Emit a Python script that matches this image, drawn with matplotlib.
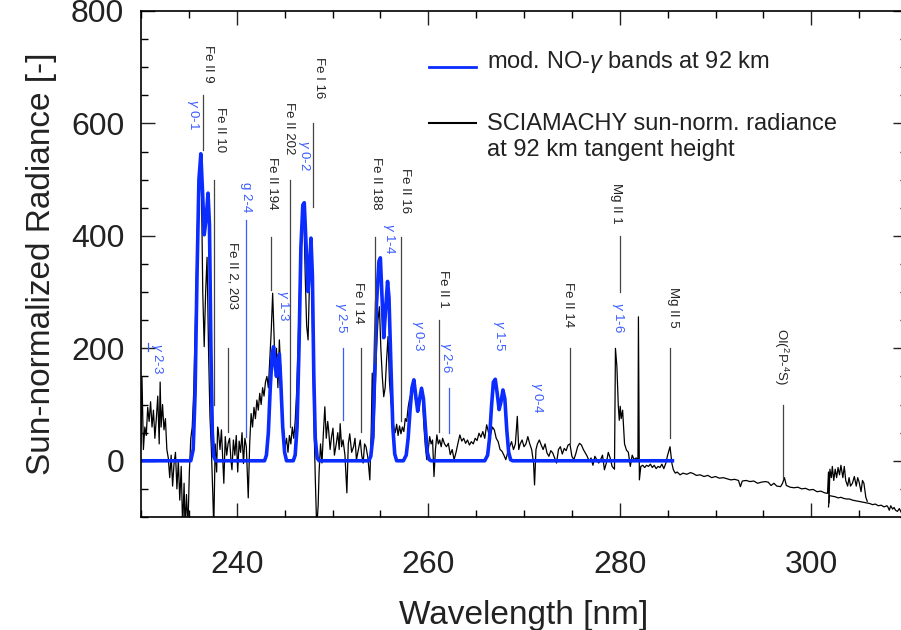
import matplotlib
matplotlib.use("Agg")
import matplotlib.pyplot as plt
from matplotlib.ticker import MultipleLocator

plt.rcParams["font.family"] = ["Liberation Sans", "DejaVu Sans"]
plt.rcParams["mathtext.fontset"] = "custom"
plt.rcParams["mathtext.it"] = "Liberation Sans:italic"
plt.rcParams["mathtext.rm"] = "Liberation Sans"

# modelled NO-gamma bands (blue)
model_wl = [230.0, 235.2, 235.45, 235.65, 235.85, 236.05, 236.25, 236.45, 236.6, 236.8, 237.0,
            237.15, 237.3, 237.45, 237.6, 237.8,
            242.9, 243.1, 243.3, 243.5, 243.7, 243.85, 244.0, 244.15, 244.3, 244.45, 244.6,
            244.8, 245.0, 245.2,
            245.9, 246.1, 246.3, 246.5, 246.7, 246.9, 247.05, 247.25, 247.45, 247.6, 247.75,
            247.9, 248.05, 248.2, 248.4, 248.6,
            253.8, 254.0, 254.2, 254.4, 254.6, 254.85, 255.0, 255.15, 255.35, 255.55, 255.75,
            255.9, 256.1, 256.3, 256.5, 256.7,
            257.4, 257.7, 257.9, 258.1, 258.3, 258.5, 258.7, 258.9, 259.1, 259.3, 259.5,
            259.7, 259.9, 260.1, 260.3,
            265.9, 266.2, 266.4, 266.6, 266.8, 267.0, 267.2, 267.4, 267.6, 267.8, 268.0,
            268.2, 268.4, 268.6, 268.8, 285.5]
model_val = [0, 0, 20, 120, 330, 500, 546, 470, 402, 430, 476,
             420, 200, 50, 8, 0,
             0, 10, 50, 130, 190, 203, 170, 150, 180, 190, 140,
             60, 15, 0,
             0, 10, 60, 200, 380, 455, 459, 380, 301, 340, 396,
             330, 150, 40, 5, 0,
             0, 8, 40, 150, 280, 355, 361, 300, 219, 270, 319,
             290, 170, 60, 12, 0,
             0, 10, 40, 90, 130, 144, 115, 88, 110, 129, 110,
             60, 15, 2, 0,
             0, 10, 40, 95, 140, 145, 120, 91, 105, 126, 110,
             55, 15, 2, 0, 0]

# SCIAMACHY sun-normalized radiance, channel 2
sci_wl = [230.0, 230.1, 230.25, 230.4, 230.55, 230.7, 230.85, 231.0, 231.15, 231.3, 231.45,
          231.6, 231.75, 231.9, 232.0, 232.1, 232.25, 232.4, 232.55, 232.7, 232.85, 233.0,
          233.15, 233.3, 233.45, 233.6, 233.75, 233.9, 234.05, 234.2, 234.35, 234.5, 234.6,
          234.75, 234.9, 235.05, 235.2, 235.35, 235.5, 235.7, 235.9, 236.1, 236.3, 236.45,
          236.6, 236.75, 236.9, 237.05, 237.2, 237.35, 237.5, 237.6, 237.75, 237.9, 238.0,
          238.1, 238.25, 238.4, 238.55, 238.65, 238.8, 238.95, 239.1, 239.25, 239.4, 239.5,
          239.65, 239.8, 239.95, 240.1, 240.25, 240.4, 240.55, 240.7, 240.85, 241.0, 241.2,
          241.35, 241.5, 241.65, 241.8, 241.95, 242.1, 242.25, 242.4, 242.55, 242.7, 242.85,
          243.0, 243.15, 243.3, 243.45, 243.6, 243.75, 243.9, 244.0, 244.15, 244.3, 244.45,
          244.6, 244.75, 244.9, 245.05, 245.2, 245.35, 245.5, 245.65, 245.8, 245.95, 246.1,
          246.25, 246.4, 246.55, 246.7, 246.85, 247.0, 247.15, 247.3, 247.45, 247.6, 247.75,
          247.9, 248.05, 248.2, 248.35, 248.5, 248.6, 248.75, 248.9, 249.05, 249.2, 249.35,
          249.5, 249.6, 249.75, 249.9, 250.05, 250.2, 250.4, 250.55, 250.7, 250.8, 250.95,
          251.1, 251.3, 251.5, 251.65, 251.8, 252.0, 252.2, 252.35, 252.5, 252.7, 252.9,
          253.05, 253.2, 253.35, 253.5, 253.7, 253.9, 254.05, 254.15, 254.3, 254.45, 254.6,
          254.75, 254.9, 255.05, 255.2, 255.35, 255.5, 255.65, 255.8, 255.95, 256.1, 256.25,
          256.4, 256.55, 256.7, 256.85, 257.0, 257.15, 257.3, 257.45, 257.6, 257.75, 257.9,
          258.05, 258.2, 258.35, 258.5, 258.65, 258.8, 258.95, 259.1, 259.25, 259.4, 259.55,
          259.7, 259.85, 260.0, 260.15, 260.3, 260.45, 260.6, 260.75, 260.9, 261.05, 261.2,
          261.35, 261.5, 261.7, 261.9, 262.1, 262.3, 262.5, 262.7, 262.9, 263.1, 263.3,
          263.5, 263.7, 263.9, 264.1, 264.3, 264.5, 264.7, 264.9, 265.1, 265.3, 265.5,
          265.7, 265.9, 266.1, 266.3, 266.5, 266.7, 266.9, 267.1, 267.3, 267.5, 267.7,
          267.9, 268.1, 268.3, 268.5, 268.7, 268.9, 269.1, 269.3, 269.45, 269.6, 269.8,
          270.0, 270.2, 270.4, 270.6, 270.8, 271.0, 271.1, 271.25, 271.4, 271.6, 271.8,
          272.0, 272.2, 272.4, 272.6, 272.8, 273.0, 273.2, 273.4, 273.6, 273.8, 274.0,
          274.2, 274.4, 274.6, 274.8, 275.0, 275.2, 275.4, 275.6, 275.8, 276.0, 276.2,
          276.4, 276.6, 276.8, 277.0, 277.2, 277.4, 277.6, 277.8, 278.0, 278.2, 278.4,
          278.6, 278.8, 279.0, 279.2, 279.45, 279.55, 279.7, 279.85, 279.95, 280.05, 280.15,
          280.3, 280.5, 280.7, 280.9, 281.1, 281.3, 281.5, 281.7, 281.9, 281.95, 282.05,
          282.2, 282.4, 282.6, 282.8, 283.0, 283.2, 283.4, 283.6, 283.8, 284.0, 284.2,
          284.4, 284.6, 284.8, 285.0, 285.25, 285.45, 285.6, 285.8, 286.0, 286.3, 286.6,
          287.0, 287.4, 287.7, 288.0, 288.4, 288.8, 289.2, 289.6, 290.0, 290.4, 290.8,
          291.2, 291.6, 292.0, 292.4, 292.6, 292.8, 293.2, 293.6, 294.0, 294.4, 294.8,
          295.2, 295.5, 295.8, 296.1, 296.4, 296.8, 297.0, 297.2, 297.4, 297.8, 298.2,
          298.6, 299.0, 299.4, 299.8, 300.2, 300.6, 301.0, 301.4, 301.7, 301.8, 301.85,
          301.95, 302.1, 302.2, 302.35, 302.5, 302.65, 302.8, 302.95, 303.1, 303.3, 303.45,
          303.6, 303.8, 303.95, 304.1, 304.3, 304.5, 304.7, 304.85, 305.0, 305.2, 305.35,
          305.5, 305.7, 305.85]
sci_val = [30, 150, 20, 60, 45, 95, 70, 105, 60, 90, 40,
           75, 115, 30, 140, 60, 100, 55, 75, 20, 5, -30,
           10, -45, -5, 15, -50, 0, -70, -10, -120, -40, -120,
           -60, -120, -20, 40, 60, 120, 260, 420, 480, 505, 300,
           203, 300, 362, 200, 80, 20, -60, -120, 30, -20, 60,
           50, 20, 55, -4, -40, 43, 10, 31, 40, 0, -16,
           37, 10, 45, -20, 35, 15, 50, -5, 40, 25, -66,
           30, 84, 60, 95, 75, 108, 90, 120, 100, 130, 115,
           140, 150, 130, 180, 230, 298, 220, 160, 200, 130, 215,
           160, 90, 50, 25, 40, 15, 45, 30, 60, 40, 70,
           120, 200, 300, 380, 430, 446, 330, 240, 215, 320, 393,
           250, 80, -30, -120, -80, -20, 30, -4, 50, 96, 40,
           70, 54, 20, 43, 58, 10, 31, 50, 20, 66, 25,
           37, 10, -57, 30, 48, 15, 25, 40, 2, 20, 37,
           10, -4, 30, 25, 5, -34, 60, 156, 40, 120, 200,
           250, 274, 200, 150, 114, 130, 180, 221, 140, 106, 80,
           60, 50, 65, 45, 62, 48, 60, 52, 75, 70, 95,
           110, 120, 130, 141, 110, 96, 104, 108, 126, 110, 60,
           25, 2, 20, 43, 30, 37, -28, 20, 46, 30, 37,
           25, 40, 30, 25, 31, 11, 20, 2, 15, 31, 46,
           35, 40, 31, 37, 28, 34, 30, 40, 36, 49, 42,
           52, 40, 64, 50, 46, 60, 55, 40, 34, 20, 17,
           10, 2, 15, 25, 34, 20, 30, 79, 20, 30, 37,
           25, 30, 43, 30, 20, -4, -43, 20, 30, 37, 28,
           20, 30, 14, 8, 18, 14, 5, -4, 20, 25, 12,
           22, 18, 28, 30, 8, 2, 12, 25, 31, 28, 20,
           14, 8, -1, 5, -8, 8, 2, -4, 2, 10, -16,
           -4, 15, 5, -10, -15, 200, 168, 97, 72, 97, 75,
           90, 30, 19, 15, -10, 10, 2, 5, 3, 256, -34,
           -10, -8, -12, -8, -10, -6, -12, -8, -14, -10, -12,
           -6, -14, -5, 10, 25, -5, -16, -22, -20, -25, -22,
           -24, -21, -23, -26, -25, -28, -26, -30, -28, -31, -30,
           -32, -34, -33, -35, -46, -36, -35, -37, -36, -40, -38,
           -37, -38, -44, -40, -45, -46, -40, -30, -44, -47, -48,
           -47, -50, -49, -52, -51, -55, -54, -57, -58, -20, -75,
           -15, -30, -10, -35, -15, -30, -12, -25, -8, -30, -10,
           -35, -45, -30, -45, -40, -28, -45, -30, -38, -55, -35,
           -40, -65, -72]

# SCIAMACHY, overlapping channel 3
ch3_wl = [301.8, 301.9, 302.2, 302.5, 302.8, 303.1, 303.4, 303.7, 304.0, 304.3, 304.6,
          304.9, 305.2, 305.5, 305.8, 306.1, 306.4, 306.7, 307.0, 307.3, 307.6, 307.9,
          308.0, 308.15, 308.3, 308.5, 308.65, 308.8, 309.0, 309.2, 309.4, 309.6, 309.8, 310.0]
ch3_val = [-82, -62, -63, -64, -66, -65, -67, -68, -68, -70, -71,
           -72, -73, -74, -75, -76, -78, -77, -80, -79, -82, -80,
           -82, -88, -80, -86, -83, -88, -90, -85, -92, -88, -90, -92]

# line identifications: (label, text x, text top, line x, line top, line bottom)
black_ids = [("Fe II 9", 237.0, 740, 236.5, 651, 553),
             ("Fe II 10", 238.2, 629, 237.6, 500, 100),
             ("Fe II 2, 203", 239.56, 390, 239.1, 200, 52),
             ("Fe II 194", 243.64, 540, 243.55, 398, 304),
             ("Fe II 202", 245.46, 638, 245.6, 500, 60),
             ("Fe I 16", 248.55, 718, 248.0, 601, 452),
             ("Fe I 14", 252.62, 318, 252.95, 200, 52),
             ("Fe II 188", 254.56, 540, 254.45, 398, 174),
             ("Fe II 16", 257.59, 521, 257.2, 398, 70),
             ("Fe II 1", 261.5, 340, 261.1, 251, 52),
             ("Fe II 14", 274.57, 318, 274.8, 200, 32),
             ("Mg II 1", 279.6, 494, 280.0, 400, 300),
             ("Mg II 5", 285.54, 309, 285.3, 200, 41),
             ("OI($^2$P-$^4$S)", 296.87, 236, 297.1, 100, -30)]
blue_ids = [("2-3", 231.7, 210, 230.75, 210, 195),
            ("0-1", 235.45, 644, None, 0, 0),
            ("2-4", 240.97, 496, 241.0, 428, 43),
            ("1-3", 244.79, 304, None, 0, 0),
            ("0-2", 247.03, 571, None, 0, 0),
            ("2-5", 250.9, 283, 251.1, 200, 73),
            ("1-4", 255.9, 423, None, 0, 0),
            ("0-3", 258.89, 251, None, 0, 0),
            ("2-6", 261.87, 212, 262.2, 130, 50),
            ("1-5", 267.41, 251, None, 0, 0),
            ("0-4", 271.38, 140, None, 0, 0),
            ("1-6", 279.79, 283, None, 0, 0)]

fig = plt.figure(figsize=(9.01, 6.30), dpi=100)
ax = fig.add_axes([141 / 901, 113 / 630, 766 / 901, 506 / 630])

ax.plot(sci_wl, sci_val, color="black", lw=0.9)
ax.plot(ch3_wl, ch3_val, color="black", lw=0.9)
ax.plot(model_wl, model_val, color="#0a2cff", lw=2.6)

for label, tx, ty, lx, ltop, lbot in black_ids:
    ax.text(tx, ty, label, rotation=270, ha="center", va="top", fontsize=9.5, color="#222222")
    ax.plot([lx, lx], [lbot, ltop], color="#444444", lw=0.9)

for label, tx, ty, lx, ltop, lbot in blue_ids:
    name = "g " + label if label == "2-4" else r"$\gamma$ " + label
    ax.text(tx, ty, name, rotation=270, ha="center", va="top", fontsize=9.5, color="#3a5cff")
    if lx is not None:
        ax.plot([lx, lx], [lbot, ltop], color="#3a5cff", lw=0.9)

# legend drawn by hand
ax.plot([0.376, 0.437], [0.889, 0.889], transform=ax.transAxes, color="#0a2cff", lw=2.0)
ax.text(0.452, 0.899, r"mod. NO-$\gamma$ bands at 92 km", transform=ax.transAxes,
        fontsize=17, va="center", color="#222222")
ax.plot([0.376, 0.437], [0.779, 0.779], transform=ax.transAxes, color="black", lw=1.5)
ax.text(0.452, 0.751, "SCIAMACHY sun-norm. radiance\nat 92 km tangent height",
        transform=ax.transAxes, fontsize=17, va="center", color="#222222", linespacing=1.2)

ax.set_xlim(230, 310)
ax.set_ylim(-100, 800)
ax.xaxis.set_major_locator(MultipleLocator(20))
ax.xaxis.set_minor_locator(MultipleLocator(5))
ax.yaxis.set_major_locator(MultipleLocator(200))
ax.yaxis.set_minor_locator(MultipleLocator(50))
ax.tick_params(which="both", direction="in", top=True, right=True, width=1.0)
ax.tick_params(which="major", length=10, labelsize=23, colors="#222222")
ax.tick_params(which="minor", length=5)
ax.tick_params(axis="x", pad=24)
ax.tick_params(axis="y", pad=12)
for s in ax.spines.values():
    s.set_linewidth(1.2)

ax.set_xlabel("Wavelength [nm]", fontsize=24, color="#222222", labelpad=14)
ax.set_ylabel("Sun-normalized Radiance [-]", fontsize=24, color="#222222", labelpad=10)

fig.savefig("out.png", dpi=100)
